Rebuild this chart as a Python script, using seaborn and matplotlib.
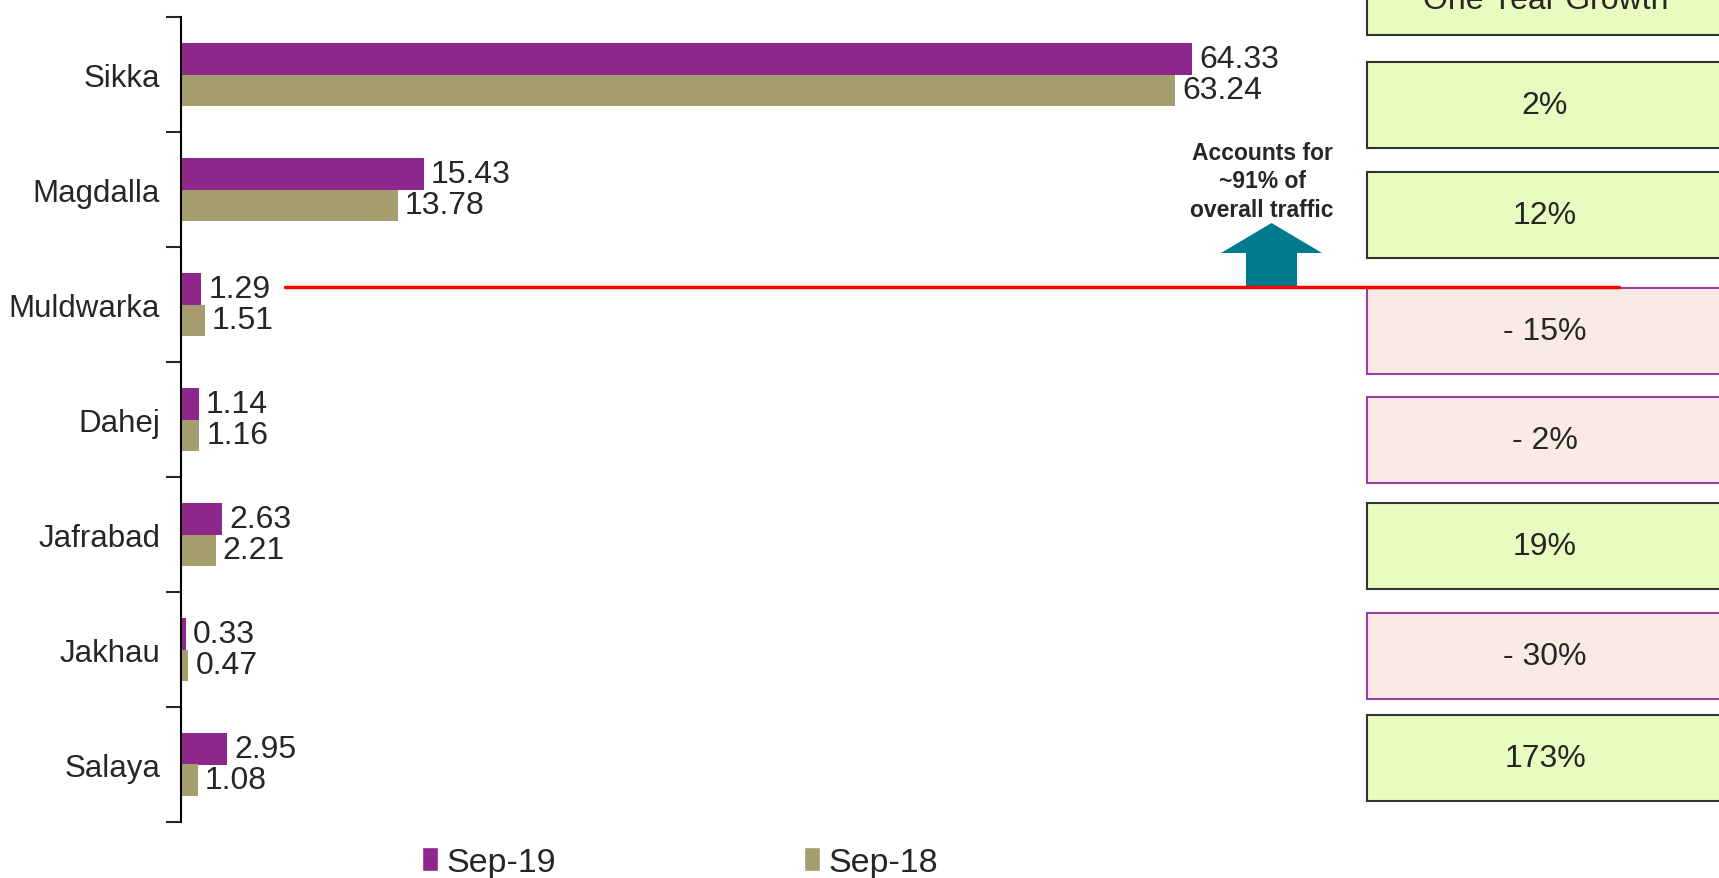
import numpy as np
import pandas as pd
import seaborn as sns
import matplotlib.pyplot as plt
from matplotlib.patches import Rectangle, Polygon, Patch
from matplotlib.lines import Line2D

ports = ["Sikka", "Magdalla", "Muldwarka", "Dahej", "Jafrabad", "Jakhau", "Salaya"]
sep19 = [64.33, 15.43, 1.29, 1.14, 2.63, 0.33, 2.95]
sep18 = [63.24, 13.78, 1.51, 1.16, 2.21, 0.47, 1.08]
growth = ["2%", "12%", "- 15%", "- 2%", "19%", "- 30%", "173%"]
growth_up = [True, True, False, False, True, False, True]
months = ["Sep-19", "Sep-18"]
note = "Accounts for\n~91% of\noverall traffic"

W, H = 1719, 879
PURPLE = "#8E278C"
OLIVE = "#A59D6E"
GREEN_FILL = "#E8FCC0"
PINK_FILL = "#F9EBE3"

df = pd.DataFrame({
    "port": ports * 2,
    "value": sep19 + sep18,
    "month": [months[0]] * len(ports) + [months[1]] * len(ports),
})

sns.set_style("white")
plt.rcParams["font.family"] = ["Liberation Sans", "DejaVu Sans"]

fig = plt.figure(figsize=(W / 100, H / 100), dpi=100)
ax = fig.add_axes([181 / W, 1 - 823 / H, (1340 - 181) / W, 805 / H])

sns.barplot(data=df, y="port", x="value", hue="month", orient="h",
            palette=[PURPLE, OLIVE], width=0.54, ax=ax, legend=False,
            saturation=1, linewidth=0)

for cont in ax.containers:
    ax.bar_label(cont, fmt="%.2f", padding=5, fontsize=23)

ax.set_xlim(0, (1340 - 181) / 15.72)
ax.set_ylim(6.5, -0.5)
ax.set_xlabel("")
ax.set_ylabel("")
ax.set_xticks([])
for s in ["top", "right", "bottom"]:
    ax.spines[s].set_visible(False)
ax.spines["left"].set_color("black")
ax.spines["left"].set_linewidth(1.5)
ax.set_yticks(np.arange(-0.5, len(ports), 1), minor=True)
ax.tick_params(axis="y", which="major", length=0, pad=15, labelsize=22.5)
ax.tick_params(axis="y", which="minor", length=11, width=1.5, direction="out", left=True)


def fx(px):
    return px / W


def fy(py):
    return 1 - py / H


# growth boxes on the right
box_tops = [63, 173, 289, 398, 504, 614, 716]
box_h = 86
for top, txt, up in zip(box_tops, growth, growth_up):
    fc = GREEN_FILL if up else PINK_FILL
    ec = "#333333" if up else "#9A3FA6"
    fig.patches.append(Rectangle((fx(1367), fy(top + box_h)), fx(1730) - fx(1367),
                                 box_h / H, transform=fig.transFigure,
                                 facecolor=fc, edgecolor=ec, linewidth=1.5))
    fig.text(fx(1545), fy(top + box_h / 2), txt, ha="center", va="center", fontsize=23)

# header box, cut off by the top edge
fig.patches.append(Rectangle((fx(1367), fy(36)), fx(1730) - fx(1367), 80 / H,
                             transform=fig.transFigure, facecolor=GREEN_FILL,
                             edgecolor="#333333", linewidth=1.5))
fig.text(fx(1546), fy(9), "One Year Growth", ha="center", va="baseline", fontsize=23)

# red divider line
fig.lines.append(Line2D([fx(285), fx(1619)], [fy(288), fy(288)],
                        transform=fig.transFigure, color="#FF0000", linewidth=2.5))

# teal arrow
arrow_px = [(1246, 288), (1246, 254), (1221, 254), (1271.5, 224),
            (1322, 254), (1297, 254), (1297, 288)]
fig.patches.append(Polygon([(fx(x), fy(y)) for x, y in arrow_px], closed=True,
                           transform=fig.transFigure, facecolor="#007A8C",
                           edgecolor="none"))
fig.text(fx(1262), fy(182), note, ha="center", va="center", fontsize=16.5,
         fontweight="bold", linespacing=1.3)

handles = [Patch(facecolor=PURPLE, label=months[0]),
           Patch(facecolor=OLIVE, label=months[1])]
fig.legend(handles=handles, loc="lower center", bbox_to_anchor=(fx(680), 0.0),
           ncol=2, frameon=False, fontsize=24.5, handlelength=0.45,
           handleheight=0.7, handletextpad=0.25, columnspacing=7.3,
           borderpad=0, borderaxespad=0)

fig.savefig("out.png", dpi=100)
